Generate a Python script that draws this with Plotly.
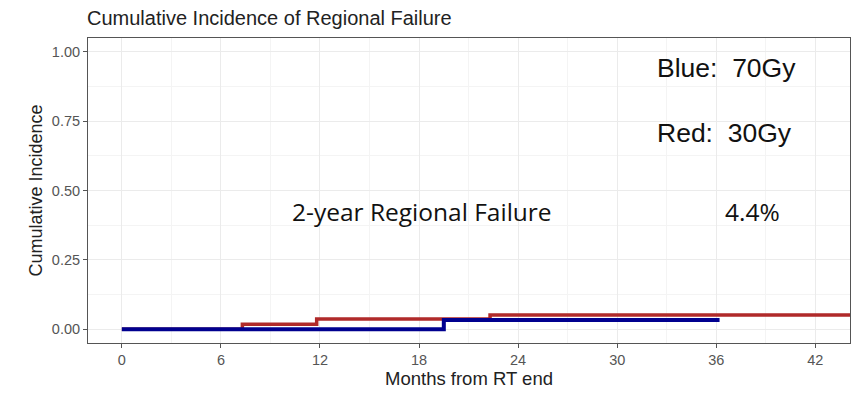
import plotly.graph_objects as go

# Cumulative incidence step curves (months from RT end, incidence)
red_months = [0, 7.3, 11.8, 22.3, 44.5]
red_incidence = [0, 0.018, 0.037, 0.051, 0.051]

blue_months = [0, 19.5, 36.2]
blue_incidence = [0, 0.033, 0.033]

x_ticks = [0, 6, 12, 18, 24, 30, 36, 42]
y_ticks = [0, 0.25, 0.5, 0.75, 1.0]
y_tick_labels = ["0.00", "0.25", "0.50", "0.75", "1.00"]

RED = "#b02a2a"
BLUE = "#00008f"
GRID = "#ebebeb"
TICK_GRAY = "#555555"
SANS = "Liberation Sans, Arial"

fig = go.Figure()
fig.add_trace(go.Scatter(x=red_months, y=red_incidence, mode="lines",
                         line=dict(color=RED, width=3.5, shape="hv"),
                         showlegend=False, cliponaxis=True))
fig.add_trace(go.Scatter(x=blue_months, y=blue_incidence, mode="lines",
                         line=dict(color=BLUE, width=4, shape="hv"),
                         showlegend=False, cliponaxis=True))

axis_common = dict(
    showline=True, linecolor="#555555", linewidth=1, mirror=True,
    ticks="outside", ticklen=4, tickcolor="#555555",
    showgrid=True, gridcolor=GRID, gridwidth=1, zeroline=False,
    automargin=False,
    tickfont=dict(family=SANS, size=14.5, color=TICK_GRAY),
)

fig.update_xaxes(range=[-2.05, 44.1], tickvals=x_ticks,
                 minor=dict(showgrid=True, gridcolor="#f4f4f4", dtick=3, tick0=0),
                 title=dict(text="Months from RT end", standoff=4,
                            font=dict(family=SANS, size=18.5, color="#222")),
                 **axis_common)
fig.update_yaxes(range=[-0.05, 1.05], tickvals=y_ticks, ticktext=y_tick_labels,
                 minor=dict(showgrid=True, gridcolor="#f4f4f4", dtick=0.125, tick0=0),
                 title=dict(text="Cumulative Incidence", standoff=4,
                            font=dict(family=SANS, size=18, color="#222")),
                 **axis_common)

label_font = dict(family=SANS, size=26.5, color="#111")
fig.add_annotation(x=32.3, y=0.942, text="Blue:\u00a0\u00a070Gy", showarrow=False,
                   xanchor="left", yanchor="middle", font=label_font)
fig.add_annotation(x=32.3, y=0.709, text="Red:\u00a0\u00a030Gy", showarrow=False,
                   xanchor="left", yanchor="middle", font=label_font)

note_font = dict(family="Open Sans, Noto Sans", size=24.5, color="#111")
fig.add_annotation(x=10.2, y=0.424, text="2-year Regional Failure", showarrow=False,
                   xanchor="left", yanchor="middle", font=note_font)
fig.add_annotation(x=36.4, y=0.424, text="4.4%", showarrow=False,
                   xanchor="left", yanchor="middle", font=note_font)

fig.update_layout(
    width=864, height=393,
    margin=dict(l=88, r=14, t=38, b=50),
    paper_bgcolor="white", plot_bgcolor="white",
    title=dict(text="Cumulative Incidence of Regional Failure",
               x=87 / 864, xanchor="left", y=1 - 18 / 393, yanchor="middle",
               font=dict(family=SANS, size=20, color="#222")),
)

fig.write_html("out.html")
